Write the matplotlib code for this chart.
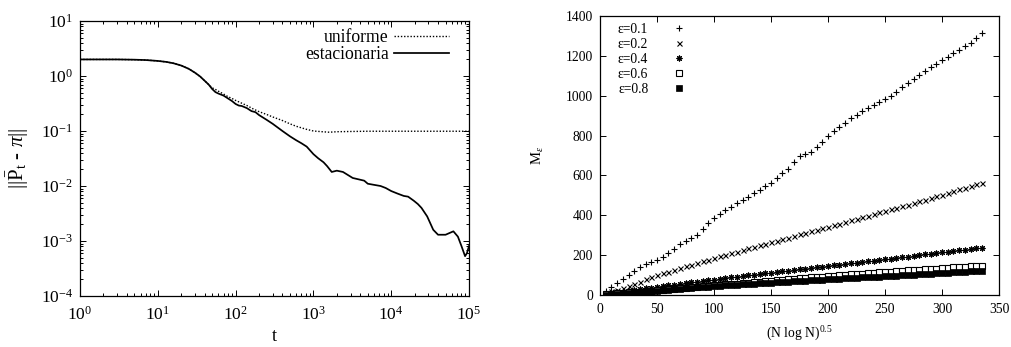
import matplotlib
matplotlib.use("Agg")
import matplotlib.pyplot as plt
import numpy as np
from matplotlib.ticker import LogLocator, NullFormatter, MultipleLocator

plt.rcParams['font.family'] = ['Liberation Serif', 'DejaVu Serif']
plt.rcParams['mathtext.fontset'] = 'custom'
plt.rcParams['mathtext.rm'] = 'Liberation Serif'
plt.rcParams['mathtext.it'] = 'Liberation Serif:italic'
plt.rcParams['mathtext.bf'] = 'Liberation Serif:bold'

# ---- left panel: distance to stationarity vs time ----
t_unif = [1, 2, 3, 5, 7, 10, 13, 16, 20, 25, 30, 35, 40, 45, 50, 55, 60, 70, 80,
          90, 100, 120, 140, 170, 200, 250, 300, 400, 500, 600, 800, 1000, 1300,
          1600, 2000, 3000, 5000, 10000, 20000, 50000, 100000]
d_unif = [2.0, 2.0, 2.0, 1.98, 1.95, 1.88, 1.80, 1.70, 1.55, 1.35, 1.15, 0.98,
          0.82, 0.70, 0.61, 0.57, 0.53, 0.47, 0.42, 0.39, 0.36, 0.32, 0.29, 0.25,
          0.225, 0.20, 0.18, 0.155, 0.135, 0.122, 0.108, 0.100, 0.097, 0.095,
          0.097, 0.098, 0.099, 0.099, 0.099, 0.099, 0.099]

t_stat = [1, 2, 3, 5, 7, 10, 13, 16, 20, 25, 30, 35, 40, 45, 50, 55, 60, 70, 80,
          90, 100, 110, 120, 140, 160, 180, 200, 250, 300, 400, 500, 600, 700,
          820, 1000, 1150, 1350, 1500, 1720, 2000, 2400, 3200, 4000, 4500, 5000,
          6000, 7300, 8500, 10000, 12000, 14500, 16500, 19500, 22000, 24500,
          29000, 34700, 40000, 50000, 63000, 72000, 80000, 89000, 94000, 100000]
d_stat = [2.0, 2.0, 2.0, 1.98, 1.95, 1.88, 1.80, 1.70, 1.55, 1.35, 1.15, 0.98,
          0.82, 0.70, 0.58, 0.51, 0.48, 0.44, 0.39, 0.35, 0.31, 0.29, 0.285,
          0.26, 0.23, 0.22, 0.195, 0.16, 0.135, 0.10, 0.08, 0.068, 0.06, 0.052,
          0.038, 0.032, 0.027, 0.023, 0.018, 0.019, 0.018, 0.014, 0.013, 0.0125,
          0.011, 0.0105, 0.010, 0.0092, 0.0081, 0.0073, 0.0066, 0.0064, 0.0054,
          0.0047, 0.0040, 0.0028, 0.0016, 0.0013, 0.0013, 0.0015, 0.0012,
          0.00081, 0.00053, 0.0006, 0.00081]

# ---- right panel: mixing measure vs (N log N)^0.5 ----
x_vals = [5, 10, 15, 20, 25, 30, 35, 40, 45, 50, 55, 60, 65, 70, 75, 80, 85, 90,
          95, 100, 105, 110, 115, 120, 125, 130, 135, 140, 145, 150, 155, 160,
          165, 170, 175, 180, 185, 190, 195, 200, 205, 210, 215, 220, 225, 230,
          235, 240, 245, 250, 255, 260, 265, 270, 275, 280, 285, 290, 295, 300,
          305, 310, 315, 320, 325, 330, 335]
m_eps01 = [20, 40, 62, 82, 102, 120, 140, 155, 168, 178, 190, 210, 232, 255, 272,
           285, 300, 330, 362, 385, 408, 425, 442, 460, 476, 494, 511, 528, 545,
           562, 585, 610, 632, 665, 695, 708, 720, 745, 770, 800, 825, 845, 865,
           888, 905, 922, 938, 952, 968, 983, 998, 1020, 1042, 1063, 1083, 1102,
           1122, 1142, 1160, 1177, 1195, 1212, 1230, 1248, 1266, 1290, 1315]
m_eps02 = [9, 18, 27, 37, 47, 57, 67, 78, 88, 98, 108, 117, 127, 136, 145, 153,
           161, 170, 178, 186, 194, 202, 210, 218, 226, 234, 242, 250, 258, 265,
           273, 281, 288, 296, 304, 312, 320, 327, 335, 342, 350, 358, 366, 374,
           382, 390, 398, 406, 414, 422, 430, 438, 446, 454, 462, 470, 479, 487,
           496, 504, 512, 521, 530, 539, 548, 556, 564]
m_eps04 = [5, 9, 13, 17, 21, 25, 29, 33, 37, 41, 44, 48, 52, 56, 60, 63, 67, 70,
           74, 77, 81, 84, 88, 91, 95, 98, 101, 105, 108, 112, 115, 118, 122,
           125, 129, 132, 136, 139, 142, 146, 149, 153, 156, 160, 163, 166, 170,
           173, 176, 180, 183, 186, 190, 193, 197, 200, 204, 207, 211, 214, 218,
           221, 225, 228, 231, 235, 238]
m_eps06 = [3, 5, 8, 10, 13, 15, 17, 20, 22, 25, 27, 29, 32, 34, 36, 39, 41, 43,
           46, 48, 50, 53, 55, 57, 60, 62, 64, 67, 69, 71, 74, 76, 78, 81, 83, 85,
           88, 90, 92, 95, 97, 99, 101, 103, 105, 107, 109, 111, 113, 115, 117,
           119, 121, 123, 125, 127, 129, 130, 132, 134, 136, 138, 140, 142, 144,
           146, 147]
m_eps08 = [2, 4, 7, 9, 11, 13, 16, 18, 20, 22, 25, 27, 29, 31, 33, 36, 38, 40,
           42, 44, 46, 48, 49, 51, 53, 54, 56, 58, 59, 61, 63, 64, 66, 68, 70, 71,
           73, 75, 76, 78, 80, 81, 83, 84, 86, 88, 89, 91, 92, 94, 96, 97, 99,
           100, 102, 104, 105, 107, 109, 110, 112, 113, 115, 117, 118, 120, 121]

W, H = 1011, 347
fig = plt.figure(figsize=(W / 100, H / 100), dpi=100)

def frac(x0, y0, x1, y1):
    return [x0 / W, 1 - y1 / H, (x1 - x0) / W, (y1 - y0) / H]

ax1 = fig.add_axes(frac(80, 21, 469, 296))
ax2 = fig.add_axes(frac(600, 16, 999, 295))

for ax in (ax1, ax2):
    for s in ax.spines.values():
        s.set_linewidth(0.9)
    ax.tick_params(which='both', direction='in', top=True, right=True,
                   width=0.7, colors='black')
    ax.tick_params(which='major', length=4.5)
    ax.tick_params(which='minor', length=2.5)

# left panel
ax1.plot(t_unif, d_unif, color='black', lw=1.0, ls=(0, (1, 1.3)), label='uniforme')
ax1.plot(t_stat, d_stat, color='black', lw=1.25, ls='-', label='estacionaria')
ax1.set_xscale('log')
ax1.set_yscale('log')
ax1.set_xlim(1, 1e5)
ax1.set_ylim(1e-4, 10)
ax1.xaxis.set_minor_locator(LogLocator(base=10, subs=np.arange(2, 10), numticks=20))
ax1.yaxis.set_minor_locator(LogLocator(base=10, subs=np.arange(2, 10), numticks=20))
ax1.xaxis.set_minor_formatter(NullFormatter())
ax1.yaxis.set_minor_formatter(NullFormatter())
ax1.set_xticks([1, 10, 100, 1000, 1e4, 1e5])
ax1.set_xticklabels(['10$^{0}$', '10$^{1}$', '10$^{2}$', '10$^{3}$', '10$^{4}$', '10$^{5}$'])
ax1.set_yticks([1e-4, 1e-3, 1e-2, 1e-1, 1, 10])
ax1.set_yticklabels(['10$^{-4}$', '10$^{-3}$', '10$^{-2}$', '10$^{-1}$', '10$^{0}$', '10$^{1}$'])
ax1.tick_params(axis='x', which='major', labelsize=12.5, pad=7)
ax1.tick_params(axis='y', which='major', labelsize=12.5, pad=5)
ax1.set_xlabel('t', fontsize=13, labelpad=3)
ax1.set_ylabel(r'||$\bar{\mathrm{P}}_{\mathrm{t}}$ - $\pi$||', fontsize=15, labelpad=7)
ax1.legend(loc='upper right', bbox_to_anchor=(0.948, 0.972), frameon=False,
           markerfirst=False, fontsize=12.7, handlelength=3.1, handletextpad=0.3,
           labelspacing=0.0, borderpad=0, borderaxespad=0)

# right panel
series = [
    (m_eps01, '\u03b5=0.1', dict(marker='+', ms=4.2, mew=0.8, color='black')),
    (m_eps02, '\u03b5=0.2', dict(marker='x', ms=3.6, mew=0.8, color='black')),
    (m_eps04, '\u03b5=0.4', dict(marker=(8, 2, 0), ms=4.2, mew=0.8, color='black')),
    (m_eps06, '\u03b5=0.6', dict(marker='s', ms=4.0, mew=0.8, mfc='white', mec='black')),
    (m_eps08, '\u03b5=0.8', dict(marker='s', ms=4.4, mew=0.5, mfc='black', mec='black')),
]
for yv, lab, style in series:
    ax2.plot(x_vals, yv, ls='none', label=lab, **style)
ax2.set_xlim(0, 350)
ax2.set_ylim(0, 1400)
ax2.xaxis.set_major_locator(MultipleLocator(50))
ax2.yaxis.set_major_locator(MultipleLocator(200))
ax2.tick_params(axis='x', which='major', labelsize=9.8, pad=6)
ax2.tick_params(axis='y', which='major', labelsize=9.8, pad=5)
ax2.set_xlabel('(N log N)$^{0.5}$', fontsize=9.8, labelpad=6)
ax2.set_ylabel(r'M$_{\varepsilon}$', fontsize=10.5, labelpad=14)
ax2.legend(loc='upper left', bbox_to_anchor=(0.045, 0.975), frameon=False,
           markerfirst=False, fontsize=9.8, numpoints=1, handlelength=1.5,
           handletextpad=1.5, labelspacing=0.15, borderpad=0, borderaxespad=0)

fig.savefig('out.png', dpi=100)
